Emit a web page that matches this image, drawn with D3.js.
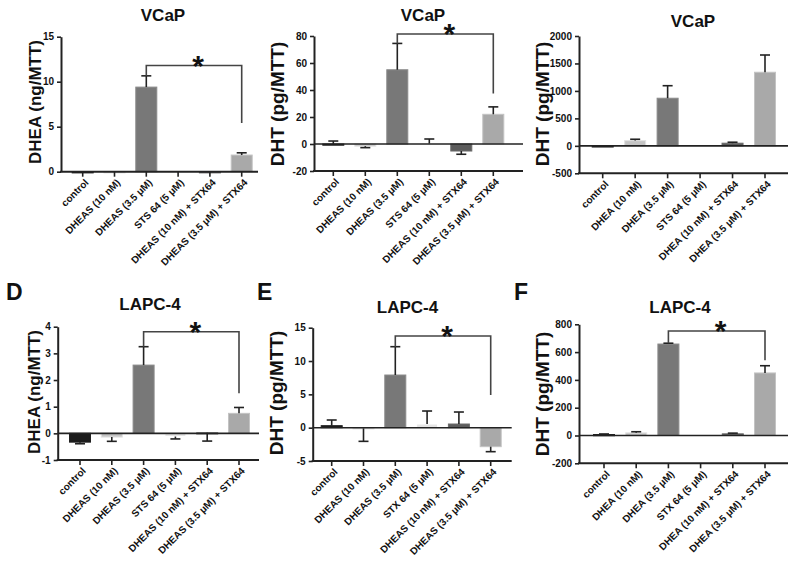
<!DOCTYPE html>
<html lang="en">
<head>
<meta charset="utf-8">
<title></title>
<style>
  body { margin: 0; background: #fff; }
  svg { font-family: "Liberation Sans", Arial, sans-serif; }
</style>
</head>
<body>
<div id="chart"></div>
<script src="https://cdnjs.cloudflare.com/ajax/libs/d3/7.8.5/d3.min.js"></script>
<script>
  // category labels
  const labelsDheasSts = ['control', 'DHEAS (10 nM)', 'DHEAS (3.5 \u03bcM)', 'STS 64 (5 \u03bcM)', 'DHEAS (10 nM) + STX64', 'DHEAS (3.5 \u03bcM) + STX64']
  const labelsDheaSts = ['control', 'DHEA (10 nM)', 'DHEA (3.5 \u03bcM)', 'STS 64 (5 \u03bcM)', 'DHEA (10 nM) + STX64', 'DHEA (3.5 \u03bcM) + STX64']
  const labelsDheasStx = ['control', 'DHEAS (10 nM)', 'DHEAS (3.5 \u03bcM)', 'STX 64 (5 \u03bcM)', 'DHEAS (10 nM) + STX64', 'DHEAS (3.5 \u03bcM) + STX64']
  const labelsDheaStx = ['control', 'DHEA (10 nM)', 'DHEA (3.5 \u03bcM)', 'STX 64 (5 \u03bcM)', 'DHEA (10 nM) + STX64', 'DHEA (3.5 \u03bcM) + STX64']

  // means and signed error (error bar end = mean + err)
  const meanA = [0, 0, 9.4, 0, 0, 1.85]
  const errA = [0, 0, 1.25, 0, 0, 0.25]
  const meanB = [-0.7, -1.6, 55, 0.3, -5.2, 22]
  const errB = [2.9, -1.1, 19.5, 3.4, -2.4, 5.5]
  const meanC = [-20, 95, 867, 0, 48, 1340]
  const errC = [0, 25, 228, 0, 18, 314]
  const meanD = [-0.33, -0.14, 2.56, -0.12, 0.02, 0.75]
  const errD = [-0.06, -0.16, 0.69, -0.09, -0.31, 0.22]
  const meanE = [0.3, -0.1, 7.9, 0.55, 0.55, -2.85]
  const errE = [0.85, -1.95, 4.25, 1.95, 1.8, -0.75]
  const meanF = [7, 19, 658, 2, 12, 450]
  const errF = [4, 8, 6, 0, 5, 52]

  // y ticks (first and last give the domain)
  const ticksA = [0, 5, 10, 15]
  const ticksB = [-20, 0, 20, 40, 60, 80]
  const ticksC = [-500, 0, 500, 1000, 1500, 2000]
  const ticksD = [-1, 0, 1, 2, 3, 4]
  const ticksE = [-5, 0, 5, 10, 15]
  const ticksF = [-200, 0, 200, 400, 600, 800]

  // significance brackets: [from, to, top, leftEnd, rightEnd]
  const sigA = [2, 5, 11.8, 10.65, 5.4]
  const sigB = [2, 5, 81.5, 74.5, 37.5]
  const sigD = [2, 5, 3.81, 3.25, 1.5]
  const sigE = [2, 5, 13.75, 12.15, 4.9]
  const sigF = [2, 5, 752, 664, 542]

  const barColors = ['#1c1c1c', '#c4c4c4', '#787878', '#e6e6e6', '#5c5c5c', '#a9a9a9']

  const panels = [
    { title: 'VCaP', yLabel: 'DHEA (ng/MTT)', labSize: 17, labels: labelsDheasSts, mean: meanA, err: errA, ticks: ticksA, sig: sigA,
      left: 61, right: 258, top: 36.7, bottom: 171.7, c0: 82.7, c5: 241.7, titleX: 163, titleY: 21, labX: 40.5, labY: 102 },
    { title: 'VCaP', yLabel: 'DHT (pg/MTT)', labSize: 19, labels: labelsDheasSts, mean: meanB, err: errB, ticks: ticksB, sig: sigB,
      left: 314, right: 523, top: 36, bottom: 171, c0: 333.3, c5: 493.3, titleX: 423, titleY: 21, labX: 283.5, labY: 104 },
    { title: 'VCaP', yLabel: 'DHT (pg/MTT)', labSize: 19, labels: labelsDheaSts, mean: meanC, err: errC, ticks: ticksC, sig: null,
      left: 579, right: 788, top: 36, bottom: 173.3, c0: 602.7, c5: 765, titleX: 693, titleY: 27, labX: 548.5, labY: 104 },
    { title: 'LAPC-4', yLabel: 'DHEA (ng/MTT)', labSize: 17, labels: labelsDheasSts, mean: meanD, err: errD, ticks: ticksD, sig: sigD, letter: 'D',
      left: 57.7, right: 259, top: 326.7, bottom: 460, c0: 80, c5: 239, titleX: 150, titleY: 310, labX: 40, labY: 392, letterX: 6, letterY: 300 },
    { title: 'LAPC-4', yLabel: 'DHT (pg/MTT)', labSize: 19, labels: labelsDheasStx, mean: meanE, err: errE, ticks: ticksE, sig: sigE, letter: 'E',
      left: 312.7, right: 511.7, top: 327.7, bottom: 461, c0: 331.7, c5: 490.7, titleX: 407.5, titleY: 313, labX: 282.7, labY: 393, letterX: 257, letterY: 300 },
    { title: 'LAPC-4', yLabel: 'DHT (pg/MTT)', labSize: 19, labels: labelsDheaStx, mean: meanF, err: errF, ticks: ticksF, sig: sigF, letter: 'F',
      left: 579, right: 788, top: 324.3, bottom: 463.3, c0: 604, c5: 765, titleX: 680, titleY: 313, labX: 548.5, labY: 394, letterX: 514, letterY: 300 }
  ]

  const svg = d3.select('#chart').append('svg')
    .attr('width', 800)
    .attr('height', 566)

  const barWidth = 21
  const capWidth = 10
  const ink = '#222'

  panels.forEach(p => drawPanel(p))

  function drawPanel(p) {
    const g = svg.append('g')
    const yMin = d3.min(p.ticks), yMax = d3.max(p.ticks)
    const y = d3.scaleLinear().domain([yMin, yMax]).range([p.bottom, p.top])
    const x = d3.scalePoint().domain(d3.range(p.labels.length)).range([p.c0, p.c5])
    const data = p.mean.map((m, i) => ({ i, m, e: p.err[i] }))

    // bars
    g.selectAll('.bar')
      .data(data)
      .enter()
      .append('rect')
      .attr('class', 'bar')
      .attr('x', d => x(d.i) - barWidth / 2)
      .attr('width', barWidth)
      .attr('y', d => Math.min(y(d.m), y(0)))
      .attr('height', d => Math.max(1.2, Math.abs(y(d.m) - y(0))))
      .attr('fill', d => barColors[d.i])
      .attr('stroke', d => d3.color(barColors[d.i]).brighter(0.4))
      .attr('stroke-width', 1)

    // error bars (one-sided)
    const eb = g.selectAll('.err')
      .data(data.filter(d => d.e !== 0))
      .enter()
      .append('g')
      .attr('class', 'err')
      .attr('stroke', ink)
      .attr('stroke-width', 1.6)
    eb.append('line')
      .attr('x1', d => x(d.i)).attr('x2', d => x(d.i))
      .attr('y1', d => y(d.m)).attr('y2', d => y(d.m + d.e))
    eb.append('line')
      .attr('x1', d => x(d.i) - capWidth / 2).attr('x2', d => x(d.i) + capWidth / 2)
      .attr('y1', d => y(d.m + d.e)).attr('y2', d => y(d.m + d.e))

    // zero line
    if (yMin < 0) {
      g.append('line')
        .attr('x1', p.left).attr('x2', p.right)
        .attr('y1', y(0)).attr('y2', y(0))
        .attr('stroke', ink).attr('stroke-width', 1.6)
    }

    // y axis
    const yAxis = g.append('g')
      .attr('transform', `translate(${p.left},0)`)
      .call(d3.axisLeft(y).tickValues(p.ticks).tickFormat(d => d).tickSize(4).tickSizeOuter(0).tickPadding(3))
    yAxis.select('.domain').attr('stroke', ink).attr('stroke-width', 2)
    yAxis.selectAll('.tick line').attr('stroke', ink).attr('stroke-width', 1.6)
    yAxis.selectAll('.tick text')
      .style('font-family', '"Liberation Sans", Arial, sans-serif')
      .style('font-size', '10px')
      .style('font-weight', 'bold')
      .attr('fill', '#111')

    // x axis
    const xAxis = g.append('g')
      .attr('transform', `translate(0,${p.bottom})`)
    xAxis.append('line')
      .attr('x1', p.left - 1).attr('x2', p.right)
      .attr('stroke', ink).attr('stroke-width', 2)
    xAxis.selectAll('.xt')
      .data(p.labels)
      .enter()
      .append('line')
      .attr('class', 'xt')
      .attr('x1', (d, i) => x(i)).attr('x2', (d, i) => x(i))
      .attr('y1', 0).attr('y2', 5)
      .attr('stroke', ink).attr('stroke-width', 1.6)
    xAxis.selectAll('.xl')
      .data(p.labels)
      .enter()
      .append('text')
      .attr('class', 'xl')
      .attr('transform', (d, i) => `translate(${x(i) + 4},${9}) rotate(-45)`)
      .attr('dy', '0.35em')
      .attr('text-anchor', 'end')
      .style('font-size', '10px')
      .style('font-weight', 'bold')
      .attr('fill', '#111')
      .text(d => d)

    // significance bracket
    if (p.sig) {
      const [a, b, top, lEnd, rEnd] = p.sig
      g.append('path')
        .attr('d', `M${x(a)},${y(lEnd)}V${y(top)}H${x(b)}V${y(rEnd)}`)
        .attr('fill', 'none')
        .attr('stroke', '#444')
        .attr('stroke-width', 1.6)
      g.append('text')
        .attr('x', (x(a) + x(b)) / 2 + 4)
        .attr('y', y(top) + 10)
        .attr('text-anchor', 'middle')
        .style('font-size', '30px')
        .style('font-weight', 'bold')
        .attr('fill', '#111')
        .text('*')
    }

    // title and y label
    g.append('text')
      .attr('x', p.titleX).attr('y', p.titleY)
      .attr('text-anchor', 'middle')
      .style('font-size', '17px')
      .style('font-weight', 'bold')
      .attr('fill', '#111')
      .text(p.title)

    g.append('text')
      .attr('transform', `translate(${p.labX},${p.labY}) rotate(-90)`)
      .attr('text-anchor', 'middle')
      .style('font-size', `${p.labSize}px`)
      .style('font-weight', 'bold')
      .attr('fill', '#111')
      .text(p.yLabel)

    if (p.letter) {
      g.append('text')
        .attr('x', p.letterX).attr('y', p.letterY)
        .style('font-size', '23px')
        .style('font-weight', 'bold')
        .attr('fill', '#111')
        .text(p.letter)
    }
  }
</script>
</body>
</html>
